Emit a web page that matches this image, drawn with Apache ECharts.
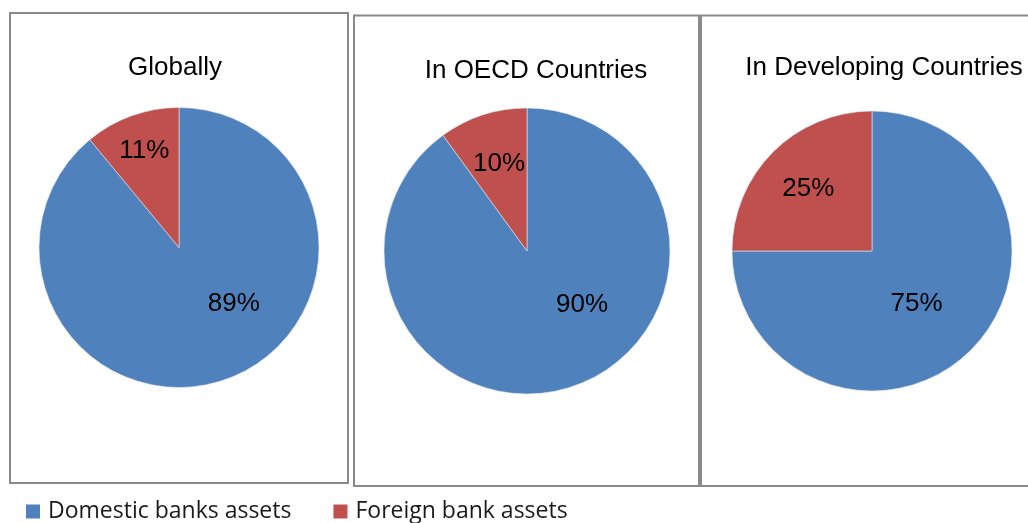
<!DOCTYPE html>
<html>
<head>
<meta charset="utf-8">
<title>Domestic vs foreign bank assets</title>
<script src="https://cdn.jsdelivr.net/npm/echarts@6/dist/echarts.min.js"></script>
<style>
  html, body { margin: 0; padding: 0; background: #ffffff; }
  #chart { width: 1028px; height: 523px; }
</style>
</head>
<body>
<div id="chart"></div>
<script>
// Share of banking assets held by domestic and foreign banks (%)
const regions = ['Globally', 'In OECD Countries', 'In Developing Countries'];
const assetTypes = ['Domestic banks assets', 'Foreign bank assets'];
const domesticShare = [89, 90, 75];
const foreignShare = [11, 10, 25];

// Look and placement of each panel
const colors = ['#4F81BD', '#C0504D'];
const panels = [
  { box: [10, 13, 338, 470], center: [179, 247.5], radius: 140, titleX: 175, titleY: 55,
    labelOffsets: [[30, -12], [-10, -28]] },
  { box: [354, 15.5, 345, 470.5], center: [527, 251], radius: 143, titleX: 536, titleY: 58,
    labelOffsets: [[32, -17], [-5, -16]] },
  { box: [701, 15.5, 330, 470.5], center: [872, 251], radius: 140, titleX: 884, titleY: 55,
    labelOffsets: [[-7, 1], [-12, -11]] }
];

const chart = echarts.init(document.getElementById('chart'), null, { renderer: 'canvas' });

const series = regions.map((name, i) => {
  const values = [domesticShare[i], foreignShare[i]];
  return {
    type: 'pie',
    name: name,
    center: panels[i].center,
    radius: [0, panels[i].radius],
    startAngle: 90,
    clockwise: true,
    animation: false,
    silent: true,
    itemStyle: { borderColor: '#dfe6f0', borderWidth: 0.6 },
    labelLine: { show: false },
    data: assetTypes.map((t, k) => ({
      name: t,
      value: values[k],
      itemStyle: { color: colors[k] },
      label: {
        show: true,
        position: 'inside',
        offset: panels[i].labelOffsets[k],
        formatter: '{c}%',
        color: '#000000',
        fontFamily: 'Liberation Sans, Arial, sans-serif',
        fontSize: 26
      }
    }))
  };
});

const titles = regions.map((name, i) => ({
  text: name,
  left: panels[i].titleX,
  top: panels[i].titleY,
  textAlign: 'center',
  padding: 0,
  textStyle: {
    color: '#000000',
    fontFamily: 'Liberation Sans, Arial, sans-serif',
    fontSize: 26,
    fontWeight: 'normal'
  }
}));

const frames = panels.map(p => ({
  type: 'rect',
  silent: true,
  z: -1,
  shape: { x: p.box[0], y: p.box[1], width: p.box[2], height: p.box[3] },
  style: { fill: '#ffffff', stroke: '#8a8a8a', lineWidth: 2 }
}));

chart.setOption({
  backgroundColor: '#ffffff',
  animation: false,
  title: titles,
  graphic: frames,
  legend: {
    data: assetTypes,
    left: 26,
    top: 500,
    padding: 0,
    orient: 'horizontal',
    icon: 'rect',
    itemWidth: 14,
    itemHeight: 14,
    itemGap: 42,
    selectedMode: false,
    itemStyle: { borderWidth: 0 },
    textStyle: {
      color: '#1a1a1a',
      fontFamily: 'Open Sans, Calibri, sans-serif',
      fontSize: 23,
      padding: [0, 0, 0, 3]
    }
  },
  series: series
});
</script>
</body>
</html>
